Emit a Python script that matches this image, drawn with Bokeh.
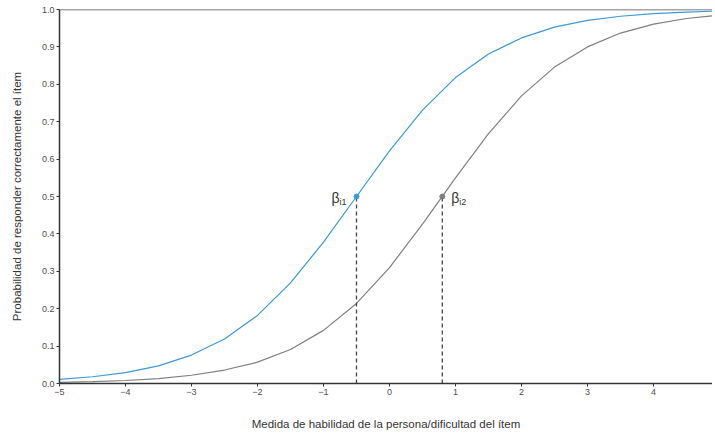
from bokeh.plotting import figure
from bokeh.models import Range1d, FixedTicker, Span
from bokeh.core.properties import value
from bokeh.embed import file_html
from bokeh.resources import INLINE

theta = [-5.0, -4.5, -4.0, -3.5, -3.0, -2.5, -2.0, -1.5, -1.0, -0.5, 0.0,
         0.5, 1.0, 1.5, 2.0, 2.5, 3.0, 3.5, 4.0, 4.5, 5.0]
p_item1 = [0.011, 0.018, 0.029, 0.047, 0.076, 0.119, 0.182, 0.269, 0.378, 0.500, 0.622,
           0.731, 0.818, 0.881, 0.924, 0.953, 0.971, 0.982, 0.989, 0.993, 0.996]
p_item2 = [0.003, 0.005, 0.008, 0.013, 0.022, 0.036, 0.057, 0.091, 0.142, 0.214, 0.310,
           0.426, 0.550, 0.668, 0.769, 0.846, 0.900, 0.937, 0.961, 0.976, 0.985]
beta = [-0.5, 0.8]
beta_p = [0.5, 0.5]
x_ticks = [-5, -4, -3, -2, -1, 0, 1, 2, 3, 4]
x_tick_labels = ["\u22125", "\u22124", "\u22123", "\u22122", "\u22121", "0", "1", "2", "3", "4"]
y_ticks = [0.0, 0.1, 0.2, 0.3, 0.4, 0.5, 0.6, 0.7, 0.8, 0.9, 1.0]
y_tick_labels = ["0.0", "0.1", "0.2", "0.3", "0.4", "0.5", "0.6", "0.7", "0.8", "0.9", "1.0"]

BLUE = "#3a9ad9"
GREY = "#7f7f7f"
AX = "#333333"
FONT = "Liberation Sans"

p = figure(width=712, height=432, output_backend="svg", toolbar_location=None,
           x_range=Range1d(-5, 4.894), y_range=Range1d(0, 1.0),
           min_border_left=59, min_border_right=0, min_border_top=9, min_border_bottom=10)
p.outline_line_color = None
p.grid.visible = False
p.background_fill_color = "white"

p.line(theta, p_item1, line_color=BLUE, line_width=1.2)
p.line(theta, p_item2, line_color=GREY, line_width=1.2)

p.add_layout(Span(location=1.0, dimension="width", line_color="#4d4d4d", line_width=1.5))

for b, bp in zip(beta, beta_p):
    p.line([b, b], [0, bp], line_color="#444444", line_width=1.3, line_dash="4 3")

p.scatter(beta[:1], beta_p[:1], size=5, color=BLUE)
p.scatter(beta[1:], beta_p[1:], size=5, color=GREY)

p.text([beta[0]], [beta_p[0]], text=["\u03b2"], x_offset=-17, y_offset=1,
       text_align="right", text_baseline="middle", text_font=value(FONT),
       text_font_size="14px", text_color="#333333")
p.text([beta[0]], [beta_p[0]], text=["i1"], x_offset=-10, y_offset=5,
       text_align="right", text_baseline="middle", text_font=value(FONT),
       text_font_size="9px", text_color="#333333")
p.text([beta[1]], [beta_p[1]], text=["\u03b2"], x_offset=9, y_offset=1,
       text_align="left", text_baseline="middle", text_font=value(FONT),
       text_font_size="14px", text_color="#333333")
p.text([beta[1]], [beta_p[1]], text=["i2"], x_offset=17, y_offset=5,
       text_align="left", text_baseline="middle", text_font=value(FONT),
       text_font_size="9px", text_color="#333333")

for ax in (p.xaxis[0], p.yaxis[0]):
    ax.axis_line_color = AX
    ax.axis_line_width = 1.5
    ax.major_tick_line_color = AX
    ax.major_tick_out = 3
    ax.major_tick_in = 0
    ax.minor_tick_line_color = None
    ax.major_label_text_font = FONT
    ax.major_label_text_font_size = "9px"
    ax.major_label_text_color = "#4d4d4d"
    ax.axis_label_text_font = FONT
    ax.axis_label_text_font_size = "11.5px"
    ax.axis_label_text_font_style = "normal"
    ax.axis_label_text_color = "#333333"

p.xaxis.ticker = FixedTicker(ticks=x_ticks)
p.xaxis.major_label_overrides = {t: l for t, l in zip(x_ticks, x_tick_labels)}
p.yaxis.ticker = FixedTicker(ticks=y_ticks)
p.yaxis.major_label_overrides = {t: l for t, l in zip(y_ticks, y_tick_labels)}
p.xaxis.major_label_standoff = 2
p.yaxis.major_label_standoff = 2
p.xaxis.axis_label = "Medida de habilidad de la persona/dificultad del \u00edtem"
p.yaxis.axis_label = "Probabilidad de responder correctamente el \u00edtem"
p.xaxis.axis_label_standoff = 20
p.yaxis.axis_label_standoff = 16

open("out.html", "w").write(file_html(p, INLINE))
